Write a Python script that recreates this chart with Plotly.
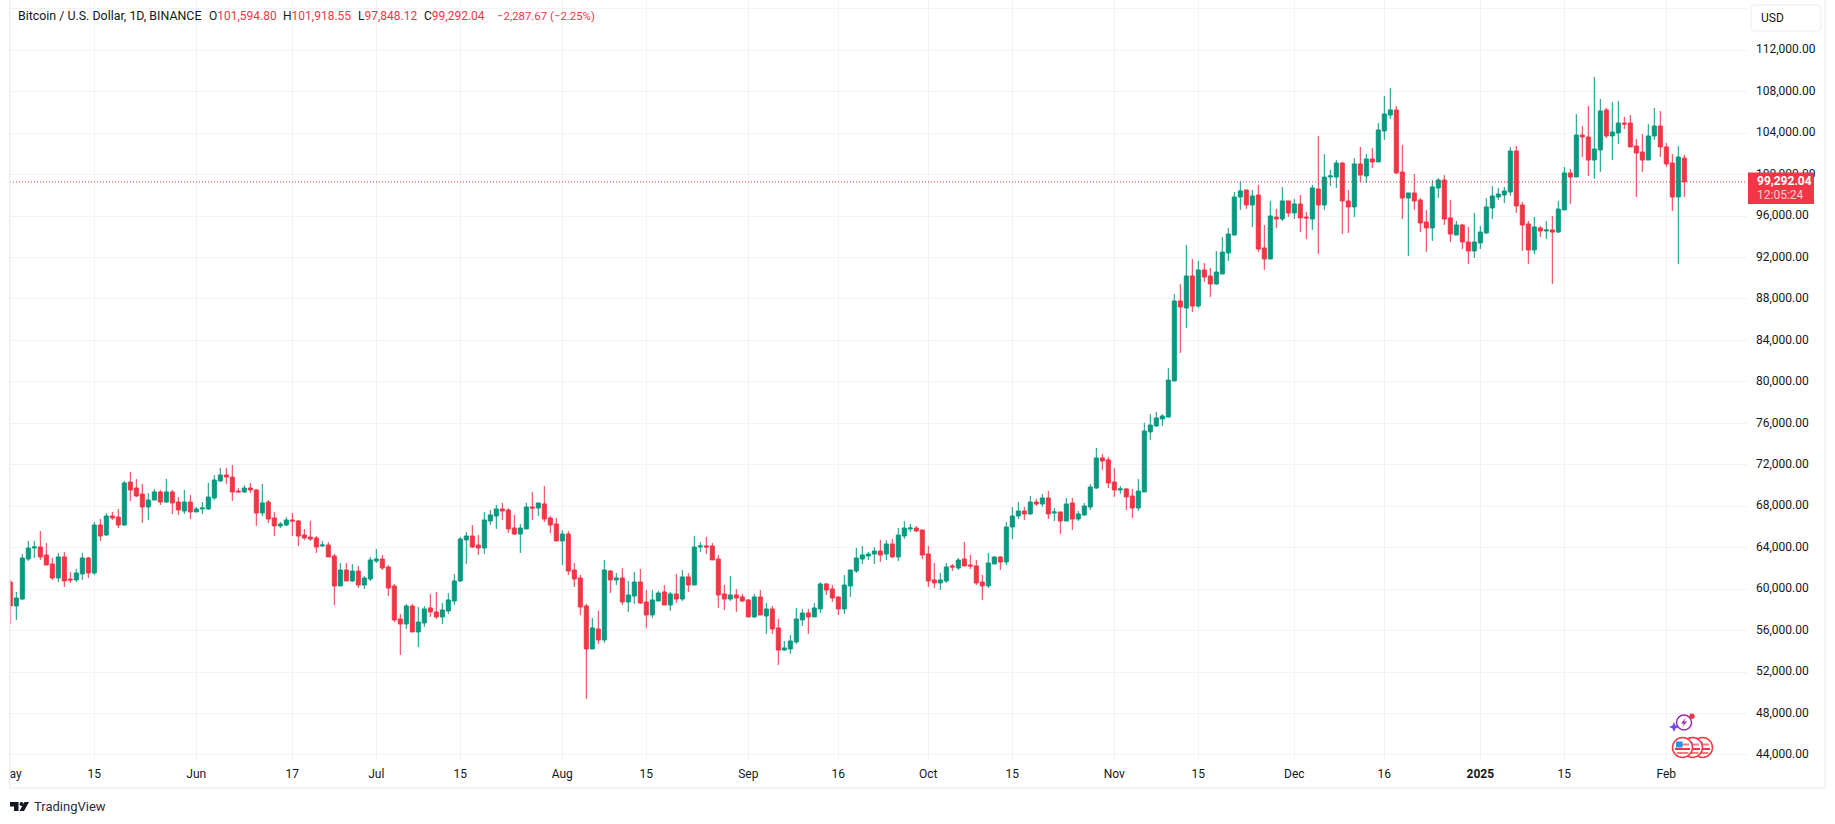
import pandas as pd
import plotly.graph_objects as go

W, H = 1835, 824
# pane edges in page pixels
LEFT, RIGHT, TOP, BOTTOM = 10, 1747, 0, 761

GREEN = "#089981"
RED = "#F23645"
GRID = "#f3f3f5"
FRAME = "#f0f0f3"
INK = "#131722"
FONT = "Roboto"

opens = [
    60690, 58380, 59050, 62910, 63970, 64070, 63300, 62430, 61080, 63110, 60980, 60890, 61470, 63010, 61560, 66190, 65230, 67060, 66960, 66190, 70340, 69760, 69180, 67930, 68600, 69380, 68410, 69380, 68410, 67540, 68410,
    67450, 67740, 67740, 68800, 70440, 71020, 70820, 69470, 69380, 69760, 69570, 67350, 68410, 66870, 66100, 66190, 66680, 66580, 65230, 65030, 64940, 64170, 64260, 63200, 60310, 61850, 60790, 61750, 60400, 60980,
    62720, 62910, 62140, 60310, 57120, 56640, 58380, 55870, 56740, 58190, 57800, 57320, 57900, 58860, 60790, 64750, 65130, 64260, 63970, 66580, 67060, 67740, 67640, 65900, 65320, 65810, 67930, 67830, 68220, 66870, 66290,
    64650, 65320, 61850, 61080, 58380, 54230, 56160, 55100, 61750, 60890, 61080, 58760, 59340, 60690, 58760, 57510, 58860, 59730, 58470, 59540, 59050, 61180, 60400, 64070, 64170, 64170, 62910, 59540, 59050, 59440, 59250,
    58960, 57320, 59250, 57410, 58090, 56260, 54130, 54230, 54900, 57030, 57700, 57320, 58090, 60500, 60020, 59250, 58090, 60310, 61750, 62910, 63200, 63390, 63680, 63390, 64360, 63110, 65130, 65810, 65900, 65710,
    63390, 60890, 60600, 60790, 62240, 62040, 62910, 62330, 62240, 60690, 60310, 62430, 63100, 62620, 66000, 67060, 67540, 67260, 68410, 68220, 68800, 67350, 67450, 66580, 68320, 66770, 67160, 67930, 69760, 72660, 72470,
    70340, 69570, 69670, 68990, 67830, 69380, 75170, 75750, 76420, 76610, 80090, 87810, 87130, 90220, 87320, 90800, 90220, 89450, 90410, 92440, 94170, 97840, 98520, 97070, 98030, 92920, 91860, 95910, 95720, 97460,
    96300, 97170, 95910, 95720, 98610, 97070, 99770, 99770, 101120, 97460, 96880, 101030, 99870, 101510, 101220, 104210, 105750, 106240, 100250, 97740, 98230, 97550, 95430, 94850, 98710, 99480, 95820, 94170, 95140, 93500, 92630,
    93400, 94370, 96780, 97840, 98030, 98320, 102280, 97070, 95240, 92730, 94850, 94560, 94660, 94460, 96590, 100160, 99770, 103820, 103630, 101410, 102380, 106240, 103730, 104020, 104980, 104980, 102760, 102180, 101410, 103730, 104690,
    102670, 101120, 97840, 101594.80,
]
highs = [
    60890, 59730, 63390, 64650, 64650, 65610, 64460, 63010, 63490, 63590, 61660, 61950, 63490, 63110, 66480, 66770, 67350, 67450, 67740, 70440, 71310, 70630, 70150, 69280, 69670, 69570, 70630, 69570, 68890, 69570, 69090,
    67930, 68410, 70250, 71020, 71690, 71690, 71980, 69760, 70050, 70250, 69670, 70150, 68600, 67450, 66480, 66960, 67350, 66680, 65810, 66580, 65130, 64650, 64550, 63390, 62530, 62530, 62430, 62240, 61270, 63110,
    63880, 63300, 62330, 60500, 57610, 58570, 58570, 58280, 58380, 59540, 59730, 58670, 59630, 61470, 65030, 65520, 66190, 65230, 67450, 67640, 68120, 68320, 67830, 67160, 66290, 68320, 69380, 68320, 69960, 67060, 66870,
    65710, 65610, 62530, 61370, 58570, 57220, 57900, 62820, 61850, 61560, 62040, 60790, 61660, 61950, 59920, 59920, 59830, 60400, 59730, 61470, 61850, 61560, 65130, 64550, 65030, 64460, 63300, 60400, 61270, 60020, 59540,
    59050, 59540, 59920, 58670, 58380, 57120, 55000, 55580, 58190, 58090, 58090, 58670, 60690, 60600, 60400, 59250, 61370, 61850, 63970, 64170, 63590, 64070, 64750, 64750, 64840, 65900, 66580, 66290, 66100, 65710,
    64170, 62530, 61560, 62530, 62430, 63010, 64550, 63300, 62810, 61370, 63490, 63200, 63200, 66480, 67930, 68410, 67930, 68990, 68700, 69190, 69470, 67830, 67450, 68800, 68800, 67540, 68320, 70150, 73620, 73040, 72750,
    71690, 69960, 69760, 69670, 70630, 76040, 76900, 77100, 76900, 81340, 88480, 89450, 93210, 91860, 91670, 91470, 90990, 92630, 93980, 94850, 98320, 99380, 98520, 98520, 99000, 95140, 97460, 96680, 98810, 97460,
    97650, 98030, 96390, 99000, 103730, 101990, 100450, 101410, 101220, 98520, 101600, 102670, 101990, 102570, 104980, 107590, 108360, 106620, 102860, 98230, 100060, 97740, 96590, 99480, 99670, 99960, 97550, 95530, 95240, 94950, 96300,
    95040, 97740, 98900, 98710, 98810, 102670, 102760, 97360, 95530, 95910, 95040, 95530, 96010, 97460, 100740, 100540, 105850, 104690, 106620, 109420, 107300, 106430, 107010, 107100, 105560, 105750, 103440, 103920, 104880, 106430, 106140,
    103050, 101990, 102760, 101918.55,
]
lows = [
    56640, 57030, 58960, 62720, 63010, 62820, 62330, 60890, 60690, 60210, 60600, 60690, 60890, 61080, 61370, 64650, 65130, 66680, 65900, 66100, 68510, 68890, 66390, 66680, 68600, 68120, 68320, 67250, 67160, 67250, 66770,
    67450, 67250, 67640, 68600, 70340, 70150, 68510, 69380, 69280, 69280, 66100, 67060, 66390, 65130, 65900, 66100, 65130, 64170, 64750, 64650, 63490, 64070, 63110, 58470, 60310, 60790, 60690, 60110, 60020, 60790,
    62530, 61850, 59340, 56830, 53650, 56160, 55870, 54420, 56350, 57320, 57120, 56640, 57610, 58470, 60690, 62430, 63970, 63300, 63390, 66190, 65810, 66680, 65420, 65230, 63490, 65810, 66680, 67060, 66480, 65420, 64650,
    62330, 61370, 60210, 57510, 49410, 54230, 54710, 54810, 59630, 60400, 58470, 57800, 58570, 58570, 56260, 57220, 58860, 58470, 57900, 58670, 58860, 59730, 60400, 63590, 63390, 62820, 58190, 57990, 58860, 57800, 58760,
    57320, 57220, 57510, 55680, 55680, 52690, 54040, 53750, 54710, 56450, 55680, 57320, 57700, 59440, 58760, 57510, 57610, 59250, 61560, 62430, 62820, 62430, 62620, 62820, 63010, 62720, 64840, 65520, 65520, 62910,
    60210, 60110, 59920, 60600, 61750, 61850, 62240, 61950, 60400, 58960, 60110, 62430, 61850, 62330, 64840, 66770, 66680, 67160, 68030, 67930, 66770, 66580, 65330, 66580, 65710, 66580, 67060, 67640, 69670, 71500, 69760,
    68900, 69190, 67640, 66870, 67540, 69380, 74390, 75650, 75750, 76520, 80090, 82790, 85200, 86750, 87130, 89640, 88190, 89350, 90410, 91670, 94170, 96590, 96680, 94950, 92530, 90800, 91860, 94850, 95530, 95910,
    95720, 94460, 93790, 94660, 92340, 96590, 98900, 98710, 94270, 94370, 95910, 99290, 99190, 100640, 101220, 103340, 105370, 100060, 95720, 92150, 96590, 94460, 92540, 93600, 97740, 95140, 93500, 94170, 92820, 91380, 91960,
    92820, 94270, 95720, 97550, 97260, 97940, 96300, 92630, 91380, 92340, 93980, 93790, 89450, 94370, 96590, 97170, 99770, 101700, 99870, 99580, 100250, 103530, 101410, 102960, 104400, 102670, 97840, 100250, 101410, 103340, 101700,
    100740, 96490, 91380, 97848.12,
]
closes = [
    58380, 59150, 63010, 63970, 64070, 63110, 62330, 61080, 63110, 60790, 60890, 61560, 63010, 61560, 66190, 65130, 67060, 66870, 66190, 70250, 69570, 68990, 67930, 68600, 69380, 68410, 69380, 68320, 67640, 68410, 67450,
    67740, 67830, 68890, 70530, 71020, 70820, 69380, 69380, 69760, 69570, 67350, 68320, 66770, 66100, 66290, 66680, 66580, 65130, 64940, 64840, 64070, 64260, 63110, 60310, 61850, 60790, 61750, 60400, 61080, 62820,
    62910, 62040, 60110, 57030, 56640, 58380, 55870, 56830, 58090, 57800, 57320, 57990, 58960, 60790, 64840, 65130, 64070, 63970, 66680, 67160, 67740, 67540, 65810, 65320, 65900, 67930, 67830, 68320, 66770, 66190, 64650,
    65320, 61750, 60980, 58280, 54230, 56260, 55100, 61850, 60890, 61080, 58760, 59440, 60690, 58670, 57510, 58960, 59630, 58470, 59540, 59050, 61180, 60400, 64070, 64170, 64070, 62820, 59440, 59050, 59440, 59150, 58860,
    57320, 59250, 57510, 58090, 56160, 54130, 54330, 55000, 57120, 57700, 57320, 58190, 60500, 59920, 59150, 58090, 60400, 61850, 63010, 63300, 63390, 63680, 63300, 64360, 63110, 65230, 65900, 65900, 65610, 63300,
    60790, 60600, 60890, 62140, 62140, 62810, 62240, 62240, 60600, 60310, 62530, 63100, 62620, 66000, 67060, 67540, 67260, 68410, 68220, 68800, 67260, 67450, 66580, 68220, 66770, 67260, 68030, 69860, 72660, 72370, 70250,
    69570, 69670, 68900, 67830, 69470, 75260, 75840, 76520, 76710, 80180, 87810, 87230, 90220, 87320, 90800, 90120, 89450, 90600, 92530, 94270, 97840, 98420, 97070, 97940, 92820, 91860, 96010, 95720, 97460, 96300,
    97170, 95820, 95820, 98710, 97070, 99770, 99870, 101120, 97460, 96880, 101030, 99960, 101510, 101220, 104310, 105850, 106240, 100160, 97740, 98230, 97460, 95330, 94850, 98810, 99480, 95720, 94270, 95140, 93500, 92630, 93500,
    94460, 96880, 97940, 98130, 98420, 102280, 96970, 95140, 92730, 94950, 94560, 94660, 94460, 96680, 100160, 99770, 103820, 103630, 101410, 102470, 106140, 103730, 104110, 104980, 104880, 102670, 102090, 101410, 103730, 104690, 102670,
    101030, 97840, 101700, 99292.04,
]
dates = pd.date_range("2024-05-01", "2025-02-04", freq="D")
assert len(dates) == len(opens) == len(highs) == len(lows) == len(closes)

date_ticks = ["2024-05-01", "2024-05-15", "2024-06-01", "2024-06-17", "2024-07-01", "2024-07-15",
              "2024-08-01", "2024-08-15", "2024-09-01", "2024-09-16", "2024-10-01", "2024-10-15",
              "2024-11-01", "2024-11-15", "2024-12-01", "2024-12-16", "2025-01-01", "2025-01-15", "2025-02-01"]
date_labels = ["May", "15", "Jun", "17", "Jul", "15", "Aug", "15", "Sep", "16", "Oct", "15",
               "Nov", "15", "Dec", "16", "<b>2025</b>", "15", "Feb"]
price_ticks = list(range(44000, 116001, 4000))
price_labels = [f"{p:,.2f}" for p in price_ticks[:-1]] + [""]

legend_name = "Bitcoin / U.S. Dollar, 1D, BINANCE"
legend_ohlc = [("O", "101,594.80", 208), ("H", "101,918.55", 282), ("L", "97,848.12", 357), ("C", "99,292.04", 423)]
legend_change = "−2,287.67 (−2.25%)"


def px(x):
    return (x - LEFT) / (RIGHT - LEFT)


def py(y):
    return (BOTTOM - y) / (BOTTOM - TOP)


def poly(points):
    return "M" + " L".join(f"{px(x)},{py(y)}" for x, y in points) + " Z"


def page_rect(x0, y0, x1, y1, fill, line=None, lw=0):
    return dict(type="rect", xref="paper", yref="paper", layer="above",
                x0=px(x0), x1=px(x1), y0=py(y1), y1=py(y0), fillcolor=fill,
                line=dict(color=line or fill, width=lw))


def circle(cx, cy, r, fill, line, lw):
    return dict(type="circle", xref="paper", yref="paper", layer="above",
                x0=px(cx - r), x1=px(cx + r), y0=py(cy + r), y1=py(cy - r),
                fillcolor=fill, line=dict(color=line, width=lw))


def path(d, fill, line=None, lw=0):
    return dict(type="path", xref="paper", yref="paper", layer="above", path=d,
                fillcolor=fill, line=dict(color=line or fill, width=lw))


def text(s, x, y, color=INK, size=12, anchor="left"):
    return dict(text=s, x=px(x), y=py(y), xref="paper", yref="paper", xanchor=anchor, yanchor="middle",
                showarrow=False, borderpad=0, font=dict(family=FONT, size=size, color=color))


fig = go.Figure(go.Candlestick(
    x=dates, open=opens, high=highs, low=lows, close=closes,
    increasing=dict(line=dict(color=GREEN, width=1), fillcolor=GREEN),
    decreasing=dict(line=dict(color=RED, width=1), fillcolor=RED),
    showlegend=False,
))

shapes = [
    # last price line
    dict(type="line", xref="paper", yref="y", x0=0, x1=1, y0=closes[-1], y1=closes[-1], layer="above",
         line=dict(color=RED, width=1, dash="1px,2px")),
    # what sits outside the pane: clip of the first date label, frame
    page_rect(0, 761, 9, 800, "white"),
    page_rect(9, 0, 10.5, 789, FRAME),
    page_rect(1824.5, 0, 1826, 789, FRAME),
    page_rect(9, 787.5, 1826, 789, FRAME),
    # last price tag
    page_rect(1748, 172.5, 1814, 204, RED),
    # currency button
    dict(type="path", xref="paper", yref="paper", layer="above", fillcolor="white", line=dict(color="#eeeeF0", width=1),
         path=(f"M{px(1755)},{py(5)} L{px(1817)},{py(5)} Q{px(1821)},{py(5)} {px(1821)},{py(9)} "
               f"L{px(1821)},{py(27)} Q{px(1821)},{py(31)} {px(1817)},{py(31)} L{px(1755)},{py(31)} "
               f"Q{px(1751)},{py(31)} {px(1751)},{py(27)} L{px(1751)},{py(9)} Q{px(1751)},{py(5)} {px(1755)},{py(5)} Z")),
    # TradingView mark
    path(poly([(10, 802), (18.5, 802), (18.5, 811), (14, 811), (14, 806.5), (10, 806.5)]), INK),
    circle(21.5, 804, 2, INK, INK, 0),
    path(poly([(29, 802), (24, 811), (19.5, 811), (24.5, 802)]), INK),
    # event icons
    circle(1684, 722.5, 7.5, "white", "#9C27B0", 1.5),
    path(poly([(1686, 717.5), (1681, 723.5), (1684, 723.5), (1682, 727.5), (1687, 721.5), (1684, 721.5)]), "#9C27B0"),
    circle(1692, 716.3, 2.7, RED, RED, 0),
    path(poly([(1674, 722), (1675.5, 725.5), (1679, 727), (1675.5, 728.5), (1674, 732),
               (1672.5, 728.5), (1669, 727), (1672.5, 725.5)]), "#6E4BF5"),
]
# three overlapping flag badges, back to front
for cx in (1702.5, 1692.5, 1682.5):
    cy = 747.5
    shapes.append(circle(cx, cy, 10, "white", RED, 1.5))
    shapes.append(page_rect(cx - 6.5, cy - 4, cx + 6.5, cy - 2, "#F77C80"))
    shapes.append(page_rect(cx - 7.5, cy + 0.5, cx + 7.5, cy + 2.5, "#F23645"))
    shapes.append(page_rect(cx - 6, cy + 4.5, cx + 6, cy + 6.5, "#F77C80"))
    shapes.append(page_rect(cx - 6.5, cy - 6, cx, cy, "#2E8FE8"))

annotations = [
    text(legend_name, 17, 16, size=12.4),
    text("TradingView", 33, 806.5, color="#2a2e39", size=13),
    text("USD", 1760, 18),
    text(f"<b>{closes[-1]:,.2f}</b>", 1756, 181, color="white"),
    text("12:05:24", 1756, 195, color="rgba(255,255,255,0.75)"),
    text(legend_change, 496, 16, color=RED, size=11.4),
]
for letter, value, x in legend_ohlc:
    annotations.append(text(f"{letter}<span style='color:{RED}'>{value}</span>", x, 16))

fig.update_layout(
    width=W, height=H, autosize=False,
    margin=dict(l=LEFT, r=W - RIGHT, t=TOP, b=H - BOTTOM, pad=0),
    paper_bgcolor="white", plot_bgcolor="white",
    font=dict(family=FONT, size=12, color=INK),
    boxgap=0.33, boxgroupgap=0,
    dragmode=False,
    shapes=shapes, annotations=annotations,
)
fig.update_xaxes(
    type="date", range=["2024-04-30 22:48", "2025-02-14 10:48"], rangeslider_visible=False,
    tickmode="array", tickvals=date_ticks, ticktext=date_labels, tickangle=0,
    showgrid=True, gridcolor=GRID, gridwidth=1, ticks="", zeroline=False, showline=False,
    ticklabeloverflow="allow", ticklabelstandoff=4,
    tickfont=dict(family=FONT, size=12, color=INK),
)
fig.update_yaxes(
    side="right", range=[43419, 116848], tickmode="array", tickvals=price_ticks, ticktext=price_labels,
    showgrid=True, gridcolor=GRID, gridwidth=1, ticks="", zeroline=False, showline=False,
    ticklabeloverflow="allow", ticklabelstandoff=8, ticklabelshift=-1,
    tickfont=dict(family=FONT, size=12, color=INK),
)

fig.write_html("out.html", config={"displayModeBar": False},
               post_script="document.body.style.margin='0';document.body.style.overflow='hidden';")
